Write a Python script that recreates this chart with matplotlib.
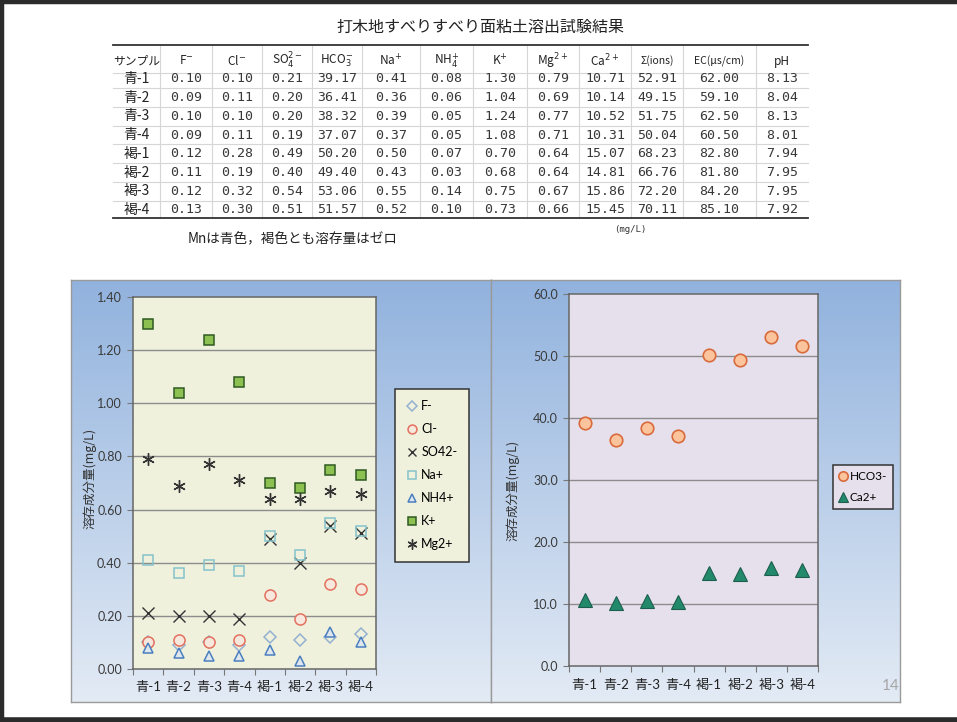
import numpy as np
import matplotlib
matplotlib.use("Agg")
import matplotlib.pyplot as plt
from matplotlib.lines import Line2D

plt.rcParams['font.family'] = ['Noto Sans CJK JP', 'DejaVu Sans']

# ---- data -------------------------------------------------------------
samples = ["青-1", "青-2", "青-3", "青-4", "褐-1", "褐-2", "褐-3", "褐-4"]
f_ion = [0.10, 0.09, 0.10, 0.09, 0.12, 0.11, 0.12, 0.13]
cl_ion = [0.10, 0.11, 0.10, 0.11, 0.28, 0.19, 0.32, 0.30]
so4_ion = [0.21, 0.20, 0.20, 0.19, 0.49, 0.40, 0.54, 0.51]
hco3_ion = [39.17, 36.41, 38.32, 37.07, 50.20, 49.40, 53.06, 51.57]
na_ion = [0.41, 0.36, 0.39, 0.37, 0.50, 0.43, 0.55, 0.52]
nh4_ion = [0.08, 0.06, 0.05, 0.05, 0.07, 0.03, 0.14, 0.10]
k_ion = [1.30, 1.04, 1.24, 1.08, 0.70, 0.68, 0.75, 0.73]
mg_ion = [0.79, 0.69, 0.77, 0.71, 0.64, 0.64, 0.67, 0.66]
ca_ion = [10.71, 10.14, 10.52, 10.31, 15.07, 14.81, 15.86, 15.45]
sum_ions = [52.91, 49.15, 51.75, 50.04, 68.23, 66.76, 72.20, 70.11]
ec = [62.00, 59.10, 62.50, 60.50, 82.80, 81.80, 84.20, 85.10]
ph = [8.13, 8.04, 8.13, 8.01, 7.94, 7.95, 7.95, 7.92]

table_headers = ["サンプル", r"F$^{-}$", r"Cl$^{-}$", r"SO$_4^{2-}$", r"HCO$_3^{-}$",
                 r"Na$^{+}$", r"NH$_4^{+}$", r"K$^{+}$", r"Mg$^{2+}$", r"Ca$^{2+}$",
                 "Σ(ions)", "EC(μs/cm)", "pH"]

title = "打木地すべりすべり面粘土溶出試験結果"
note = "Mnは青色，褐色とも溶存量はゼロ"
unit_note = "(mg/L)"
ylabel = "溶存成分量(mg/L)"
left_yticks = [0.0, 0.2, 0.4, 0.6, 0.8, 1.0, 1.2, 1.4]
right_yticks = [0.0, 10.0, 20.0, 30.0, 40.0, 50.0, 60.0]

# ---- figure -----------------------------------------------------------
W, H = 957, 722
fig = plt.figure(figsize=(W / 100, H / 100), dpi=100)
fig.patch.set_facecolor("white")


def box(x0, y0, x1, y1):
    return [x0 / W, 1 - y1 / H, (x1 - x0) / W, (y1 - y0) / H]


# overlay in pixel coordinates for the page, table and frame
page = fig.add_axes([0, 0, 1, 1], zorder=3)
page.set_xlim(0, W)
page.set_ylim(H, 0)
page.axis("off")
page.patch.set_visible(False)

# slide frame
frame_c = "#2b2b2b"
page.add_line(Line2D([0, W], [1.5, 1.5], color=frame_c, lw=3.2))
page.add_line(Line2D([1.5, 1.5], [0, H], color=frame_c, lw=3.2))
page.add_line(Line2D([0, W], [719.5, 719.5], color=frame_c, lw=4))

# title
page.text(480, 27, title, ha="center", va="center", fontsize=11.5, color="#222222")

# table
mono = ["DejaVu Sans Mono", "Noto Sans CJK JP"]
col_edges = [113, 160, 212, 262, 312, 362, 420, 473, 527, 579, 631, 683, 756, 808]
row_centers = [61] + [79 + i * 18.7 for i in range(8)]
rows = []
for i in range(8):
    rows.append([samples[i], f"{f_ion[i]:.2f}", f"{cl_ion[i]:.2f}", f"{so4_ion[i]:.2f}",
                 f"{hco3_ion[i]:.2f}", f"{na_ion[i]:.2f}", f"{nh4_ion[i]:.2f}",
                 f"{k_ion[i]:.2f}", f"{mg_ion[i]:.2f}", f"{ca_ion[i]:.2f}",
                 f"{sum_ions[i]:.2f}", f"{ec[i]:.2f}", f"{ph[i]:.2f}"])

# light cell grid
for xe in col_edges[1:-1]:
    page.add_line(Line2D([xe, xe], [46, 218], color="#d6d6d6", lw=0.8))
for k in range(1, 9):
    y = (row_centers[k - 1] + row_centers[k]) / 2 + (3 if k == 1 else 0)
    page.add_line(Line2D([col_edges[0], col_edges[-1]], [y, y], color="#d6d6d6", lw=0.8))
page.add_line(Line2D([col_edges[0], col_edges[-1]], [45, 45], color="#333333", lw=1.3))
page.add_line(Line2D([col_edges[0], col_edges[-1]], [218, 218], color="#333333", lw=1.3))

centers = [(col_edges[j] + col_edges[j + 1]) / 2 for j in range(len(col_edges) - 1)]
for j, h in enumerate(table_headers):
    fs = 7.5 if j in (10, 11) else 8.5
    page.text(centers[j], row_centers[0], h, ha="center", va="center",
              fontsize=fs, color="#222222")
for i, r in enumerate(rows):
    for j, v in enumerate(r):
        if j == 0:
            page.text(centers[j], row_centers[i + 1], v, ha="center", va="center",
                      fontsize=10, color="#222222")
        else:
            page.text(centers[j], row_centers[i + 1], v, ha="center", va="center",
                      fontsize=9.5, color="#383838", family=mono)

page.text(630, 229, unit_note, ha="center", va="center", fontsize=6.5, color="#333333",
          family=mono)
page.text(188, 239, note, ha="left", va="center", fontsize=9.8, color="#222222")

# chart panels with vertical blue gradient
grad = np.linspace(0, 1, 256)[:, None]
top_c = np.array([0.57, 0.70, 0.87])
bot_c = np.array([0.89, 0.92, 0.96])
img = top_c[None, None, :] * (1 - grad[..., None]) + bot_c[None, None, :] * grad[..., None]
img = np.repeat(img, 2, axis=1)
for (x0, x1) in [(71, 491), (491, 900)]:
    bg = fig.add_axes(box(x0, 280, x1, 702), zorder=1)
    bg.imshow(img, aspect="auto", extent=[0, 1, 0, 1], interpolation="bilinear")
    bg.set_xlim(0, 1)
    bg.set_ylim(0, 1)
    bg.set_xticks([])
    bg.set_yticks([])
    for s in bg.spines.values():
        s.set_color("#9a9a9a")
        s.set_linewidth(1.0)

page.text(891, 686, "14", ha="center", va="center", fontsize=11, color="#a6a6a6",
          family=["Lato", "DejaVu Sans"], zorder=5)

x = np.arange(len(samples)) + 0.5
lat_font = ["Lato", "Noto Sans CJK JP", "DejaVu Sans"]


def style_axes(ax, facecolor, yticks, fmt):
    ax.set_facecolor(facecolor)
    ax.set_xlim(0, len(samples))
    ax.set_ylim(yticks[0], yticks[-1])
    ax.set_yticks(yticks)
    ax.set_yticklabels([fmt.format(v) for v in yticks], family=lat_font, fontsize=9,
                       color="#3a3a3a")
    ax.set_xticks(np.arange(len(samples) + 1))
    ax.set_xticklabels([])
    ax.set_xticks(x, minor=True)
    ax.set_xticklabels(samples, minor=True, family=lat_font, fontsize=9.5,
                       color="#222222")
    ax.tick_params(axis="x", which="minor", length=0, pad=9)
    ax.tick_params(axis="x", which="major", length=4, color="#777777", direction="out")
    ax.tick_params(axis="y", length=4, color="#777777", direction="out", pad=4)
    for v in yticks[1:-1]:
        ax.axhline(v, color="#8c8c8c", lw=1.0, zorder=1)
    for s in ax.spines.values():
        s.set_color("#666666")
        s.set_linewidth(1.1)


# ---- left chart: minor ions -----------------------------------------------
axl = fig.add_axes(box(133, 297, 376, 669), zorder=2)
style_axes(axl, "#eff1dc", left_yticks, "{:.2f}")
axl.plot(x, f_ion, ls="none", marker="D", ms=6, mfc="none", mec="#94b1cf", mew=1.1,
         label="F-", zorder=3)
axl.plot(x, cl_ion, ls="none", marker="o", ms=8, mfc="#f6e8dc", mec="#e4705f", mew=1.1,
         label="Cl-", zorder=3)
axl.plot(x, so4_ion, ls="none", marker="x", ms=8, mec="#333333", mew=1.0,
         label="SO42-", zorder=3)
axl.plot(x, na_ion, ls="none", marker="s", ms=7.5, mfc="none", mec="#86c3cc", mew=1.1,
         label="Na+", zorder=3)
axl.plot(x, nh4_ion, ls="none", marker="^", ms=7.5, mfc="#dfe6ec", mec="#4a7fc0", mew=1.1,
         label="NH4+", zorder=3)
axl.plot(x, k_ion, ls="none", marker="s", ms=7, mfc="#8cc152", mec="#2f5a22", mew=1.1,
         label="K+", zorder=3)
axl.plot(x, mg_ion, ls="none", marker=(6, 2, 0), ms=9, mec="#333333", mew=1.0,
         label="Mg2+", zorder=3)
fig.text(90 / W, 1 - 478 / H, ylabel, rotation=90, ha="center", va="center",
         fontsize=9, color="#333333", zorder=4)
leg = axl.legend(loc="upper left", bbox_to_anchor=(395 / W, 1 - 389 / H),
                 bbox_transform=fig.transFigure, frameon=True, fancybox=False,
                 prop={"family": lat_font, "size": 9}, handlelength=0.9,
                 handletextpad=0.3, labelspacing=0.88, borderpad=0.9,
                 borderaxespad=0, markerscale=0.8)
leg.get_frame().set_facecolor("#eff1dc")
leg.get_frame().set_edgecolor("#333333")
leg.get_frame().set_linewidth(1.1)
leg.get_frame().set_alpha(1)
leg.set_zorder(6)

# ---- right chart: major ions ----------------------------------------------
axr = fig.add_axes(box(569, 294, 818, 666), zorder=2)
style_axes(axr, "#e6e0ec", right_yticks, "{:.1f}")
axr.plot(x, hco3_ion, ls="none", marker="o", ms=9, mfc="#fbc49c", mec="#d96a3c", mew=1.2,
         label="HCO3-", zorder=3)
axr.plot(x, ca_ion, ls="none", marker="^", ms=9.5, mfc="#22896a", mec="#1c5f4e", mew=0.8,
         label="Ca2+", zorder=3)
fig.text(513 / W, 1 - 490 / H, ylabel, rotation=90, ha="center", va="center",
         fontsize=9, color="#333333", zorder=4)
legr = axr.legend(loc="upper left", bbox_to_anchor=(833 / W, 1 - 465 / H),
                  bbox_transform=fig.transFigure, frameon=True, fancybox=False,
                  prop={"family": lat_font, "size": 8.5}, handlelength=0.6,
                  handletextpad=0.25, labelspacing=0.8, borderpad=0.55,
                  borderaxespad=0, markerscale=0.75)
legr.get_frame().set_facecolor("#e6e0ec")
legr.get_frame().set_edgecolor("#333333")
legr.get_frame().set_linewidth(1.1)
legr.get_frame().set_alpha(1)

fig.savefig("out.png", dpi=100, facecolor="white")
